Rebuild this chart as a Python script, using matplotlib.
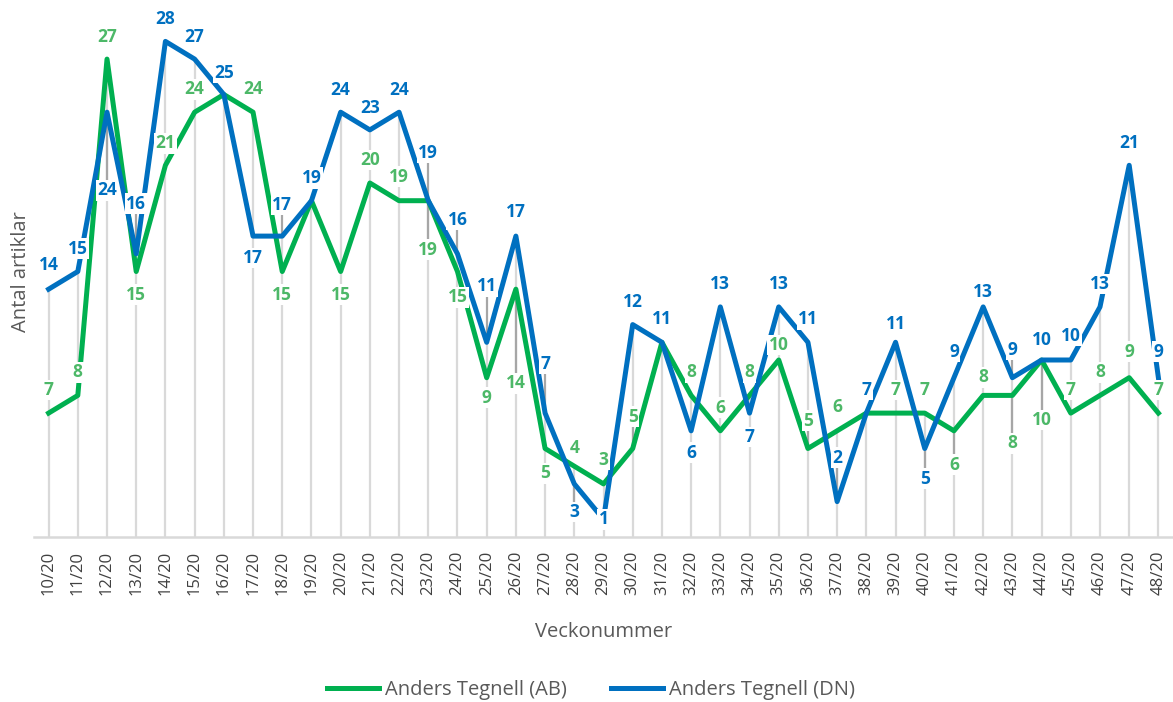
import matplotlib
matplotlib.use("Agg")
import matplotlib.pyplot as plt
import numpy as np

weeks = [f"{w}/20" for w in range(10, 49)]
ab = [7, 8, 27, 15, 21, 24, 25, 24, 15, 19, 15, 20, 19, 19, 15, 9, 14, 5, 4, 3,
      5, 11, 8, 6, 8, 10, 5, 6, 7, 7, 7, 6, 8, 8, 10, 7, 8, 9, 7]
dn = [14, 15, 24, 16, 28, 27, 25, 17, 17, 19, 24, 23, 24, 19, 16, 11, 17, 7, 3, 1,
      12, 11, 6, 13, 7, 13, 11, 2, 7, 11, 5, 9, 13, 9, 10, 10, 13, 21, 9]
series_names = ["Anders Tegnell (AB)", "Anders Tegnell (DN)"]

# label offsets in pixels (positive = below the point)
ab_dy = [-23, -23, -22, 23, -22, -23, -22, -23, 23, -22, 23, -23, -24, 49, 26, 20, 94, 25, -18, -24,
         -32, -23, -23, -23, -23, -15, -28, -24, -23, -23, -23, 34, -18, 48, 60, -23, -23, -26, -23]
dn_dy = [-24, -23, 78, -50, -22, -22, -22, 22, -31, -23, -22, -22, -22, -48, -34, -56, -24, -49, 28, 0,
         -23, -23, 22, -23, 24, -23, -23, -44, -23, -18, 30, -26, -15, -28, -20, -24, -23, -22, -26]

green = "#00B050"
green_lbl = "#4DB868"
blue = "#0070C0"

plt.rcParams['font.family'] = ['Open Sans', 'DejaVu Sans']

fig = plt.figure(figsize=(11.73, 7.02), dpi=100)
ax = fig.add_axes([34/1173, 1-537/702, 1-34/1173, (537-6)/702])

x = np.arange(len(weeks))
hi = np.maximum(ab, dn)
ax.vlines(x, 0, hi, color="#d9d9d9", lw=1.6, zorder=1)

ax.plot(x, ab, color=green, lw=3.6, zorder=3, label=series_names[0])
ax.plot(x, dn, color=blue, lw=3.6, zorder=4, label=series_names[1])

ax.set_xlim(-0.5, len(weeks)-0.5)
ax.set_ylim(0, 30)

def leaders(vals, dys):
    inv = ax.transData.inverted()
    for xi, v, d in zip(x, vals, dys):
        if abs(d) >= 27:
            px, py = ax.transData.transform((xi, v))
            ly = py - d
            end = ly + (8 if d > 0 else -8)
            _, v_end = inv.transform((px, end))
            ax.plot([xi, xi], [v, v_end], color="#a6a6a6", lw=1.6, zorder=2)

leaders(ab, ab_dy)
leaders(dn, dn_dy)

for xi, v, d in zip(x, ab, ab_dy):
    ax.annotate(str(v), (xi, v), xytext=(0, -d*0.72), textcoords="offset points",
                ha="center", va="center", fontsize=12.5, fontweight="bold", color=green_lbl,
                bbox=dict(boxstyle="square,pad=0.08", fc="white", ec="none"), zorder=5)
for xi, v, d in zip(x, dn, dn_dy):
    ax.annotate(str(v), (xi, v), xytext=(0, -d*0.72), textcoords="offset points",
                ha="center", va="center", fontsize=12.5, fontweight="bold", color=blue,
                bbox=dict(boxstyle="square,pad=0.08", fc="white", ec="none"), zorder=6)

ax.set_xticks(x)
ax.set_xticklabels(weeks, rotation=90, fontsize=12, color="#404040")
ax.tick_params(axis="x", length=0, pad=10)
ax.set_yticks([])
for s in ["top", "right", "left"]:
    ax.spines[s].set_visible(False)
ax.spines["bottom"].set_color("#d9d9d9")
ax.spines["bottom"].set_linewidth(1.8)
ax.set_ylabel("Antal artiklar", fontsize=14.5, color="#595959", labelpad=2)
ax.set_xlabel("Veckonummer", fontsize=14.5, color="#595959", labelpad=19)

fig.legend(loc="center", bbox_to_anchor=(591/1173, 1-690/702), ncol=2, frameon=False,
           fontsize=14.5, labelcolor="#595959", handlelength=2.6, handletextpad=0.3,
           columnspacing=2.2, borderpad=0)

fig.savefig("out.png", dpi=100)
